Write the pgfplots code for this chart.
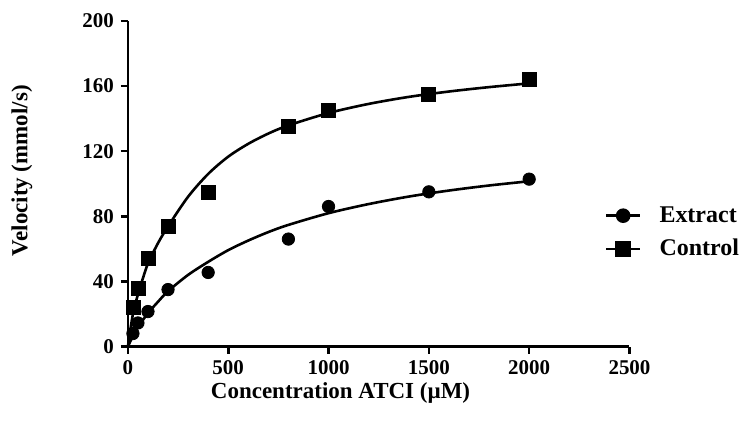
\documentclass[border=0pt]{standalone}
\usepackage{fontspec}
\setmainfont{Liberation Serif}
\usepackage{pgfplots}
\pgfplotsset{compat=1.18}
\begin{document}
\begin{tikzpicture}
\begin{axis}[
  scale only axis,
  width=251pt, height=163pt,
  xmin=0, xmax=2500, ymin=0, ymax=200,
  axis x line*=bottom, axis y line*=left,
  axis line style={line width=1.3pt},
  xtick={0,500,1000,1500,2000,2500},
  ytick={0,40,80,120,160,200},
  tick align=outside,
  major tick length=3.5pt,
  tick style={line width=1.3pt, black},
  /pgf/number format/assume math mode=true,
  /pgf/number format/set thousands separator={},
  tick label style={font=\fontsize{10.5}{12}\selectfont\bfseries},
  xlabel={Concentration ATCI (µM)},
  ylabel={Velocity (mmol/s)},
  label style={font=\fontsize{11.5}{13}\selectfont\bfseries},
  xlabel style={at={(axis description cs:0.424,0)}, anchor=center, yshift=-23pt},
  ylabel style={at={(axis description cs:0,0.54)}, anchor=center, yshift=53pt},
  clip=false,
  legend style={draw=none, fill=none, at={(axis description cs:0.95,0.444)}, anchor=north west,
    font=\fontsize{12}{14}\selectfont\bfseries, row sep=3pt, column sep=7pt, inner sep=0pt},
  legend cell align=left,
]
\addlegendimage{black, line width=1.3pt, mark=*, mark size=3pt}
\addlegendentry{Extract}
\addlegendimage{black, line width=1.3pt, mark=square*, mark size=3.2pt}
\addlegendentry{Control}
% fitted curves
\addplot[black, line width=1.3pt, smooth, forget plot] coordinates {
(0,0) (25,6.5) (50,12) (100,20.5) (150,27.5) (200,34) (300,44) (400,52) (500,59.2)
(600,65.1) (700,70.3) (800,74.7) (1000,81.9) (1200,87.5) (1400,92.1) (1600,95.8) (1800,98.9) (2000,101.5)};
\addplot[black, line width=1.3pt, smooth, forget plot] coordinates {
(0,0) (25,20) (50,32) (75,42) (100,51) (150,63.5) (200,73.8) (300,92) (400,106) (500,116.6)
(600,124.5) (700,130.8) (800,135.8) (1000,143.4) (1200,149.0) (1400,153.3) (1600,156.6) (1800,159.3) (2000,161.6)};
% data
\addplot[only marks, mark=*, mark size=3.1pt, black, forget plot] coordinates {
(25,8) (50,14.5) (100,21.5) (200,35) (400,45.5) (800,66) (1000,86) (1500,95) (2000,102.8)};
\addplot[only marks, mark=square*, mark size=3.5pt, black, forget plot] coordinates {
(25,24) (50,35.5) (100,54) (200,74) (400,94.5) (800,135) (1000,145) (1500,155) (2000,164.2)};
\path[draw=none] (rel axis cs:-0.255,-0.239) rectangle (rel axis cs:1.225,1.064);
\end{axis}
\end{tikzpicture}
\end{document}
